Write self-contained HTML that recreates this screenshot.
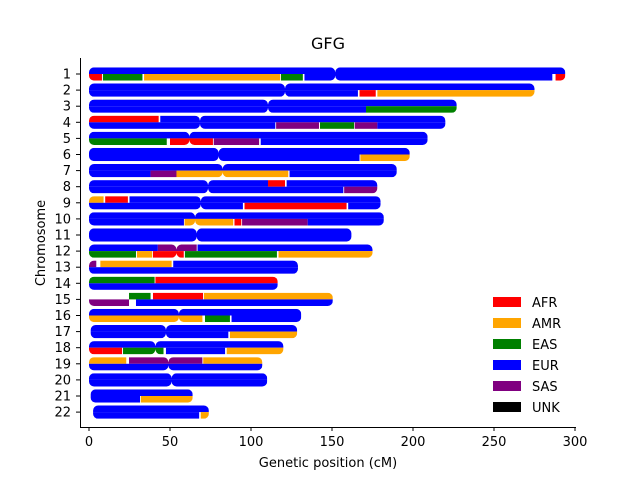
<!DOCTYPE html>
<html><head><meta charset="utf-8"><style>
body{margin:0;background:#fff}
svg text{font-family:"DejaVu Sans","Liberation Sans",sans-serif;fill:#000}
</style></head><body>
<svg id="chart" width="640" height="480" viewBox="0 0 640 480" xmlns="http://www.w3.org/2000/svg">
<rect width="640" height="480" fill="#fff"/>
<text x="328" y="49" font-size="16" text-anchor="middle">GFG</text>
<g id="plot"></g>
<line x1="80.5" y1="58" x2="80.5" y2="427" stroke="#000"/>
<line x1="80" y1="427.5" x2="576" y2="427.5" stroke="#000"/>
<g id="xticks"></g>
<g id="yticks"></g>
<text x="328" y="467" font-size="13" text-anchor="middle">Genetic position (cM)</text>
<text transform="translate(45,243) rotate(-90)" font-size="13" text-anchor="middle">Chromosome</text>
<g id="legend"></g>
</svg>
<script>
const populations = ["AFR","AMR","EAS","EUR","SAS","UNK"];
const popColors = {AFR:"#ff0000",AMR:"#ffa500",EAS:"#008000",EUR:"#0000ff",SAS:"#800080",UNK:"#000000"};
const chromosomes = ["1","2","3","4","5","6","7","8","9","10","11","12","13","14","15","16","17","18","19","20","21","22"];
const chromStart = [0,0,0,0,0,0,0,0,0,0,0,0,0,0,0,0,1,0,0,0,1,2.5];
const chromEnd = [294,275,227,220,209,198,190,178,180,182,162,175,129,116.5,150.5,131,128.5,120,107,110,64,74];
const centromeres = [152,121,110.5,68.5,62,80,82.5,73.5,69,65.5,66.5,54,null,null,null,55.5,47.5,41,49,51,null,null];
const xTicks = [0,50,100,150,200,250,300];
// segments: [chromIndex, haplotype(0 top,1 bottom), start, end, population]
const segments = [
[0,0,0,294,"EUR"],
[0,1,0,8,"AFR"],[0,1,8.6,33,"EAS"],[0,1,34,118,"AMR"],[0,1,118.5,132,"EAS"],[0,1,133,286,"EUR"],[0,1,288,294,"AFR"],
[1,0,0,275,"EUR"],[1,1,0,166,"EUR"],[1,1,167,177,"AFR"],[1,1,178,275,"AMR"],
[2,0,0,227,"EUR"],[2,1,0,171,"EUR"],[2,1,171,227,"EAS"],
[3,0,0,43,"AFR"],[3,0,44,220,"EUR"],[3,1,0,115,"EUR"],[3,1,115.5,142,"SAS"],[3,1,142.6,163.6,"EAS"],[3,1,164,178,"SAS"],[3,1,178,220,"EUR"],
[4,0,0,209,"EUR"],[4,1,0,48,"EAS"],[4,1,50,76.5,"AFR"],[4,1,77,105,"SAS"],[4,1,106,209,"EUR"],
[5,0,0,198,"EUR"],[5,1,0,167,"EUR"],[5,1,167.5,198,"AMR"],
[6,0,0,190,"EUR"],[6,1,0,38,"EUR"],[6,1,38,54,"SAS"],[6,1,54,123,"AMR"],[6,1,123.8,190,"EUR"],
[7,0,0,110.5,"EUR"],[7,0,110.5,121,"AFR"],[7,0,122,178,"EUR"],[7,1,0,157,"EUR"],[7,1,157.5,178,"SAS"],
[8,0,0,9,"AMR"],[8,0,10,24,"AFR"],[8,0,25,180,"EUR"],[8,1,0,95,"EUR"],[8,1,96,159,"AFR"],[8,1,160,180,"EUR"],
[9,0,0,182,"EUR"],[9,1,0,58.6,"EUR"],[9,1,59,89,"AMR"],[9,1,89.8,94,"AFR"],[9,1,94.5,135,"SAS"],[9,1,135,182,"EUR"],
[10,0,0,162,"EUR"],[10,1,0,162,"EUR"],
[11,0,0,42.5,"EUR"],[11,0,42.5,66.5,"SAS"],[11,0,67,175,"EUR"],[11,1,0,29,"EAS"],[11,1,29.6,39,"AMR"],[11,1,39.5,58.5,"AFR"],[11,1,59.2,116,"EAS"],[11,1,117,175,"AMR"],
[12,0,0,4.5,"SAS"],[12,0,7,51,"AMR"],[12,0,52,129,"EUR"],[12,1,0,129,"EUR"],
[13,0,0,40.5,"EAS"],[13,0,41,116.5,"AFR"],[13,1,0,116.5,"EUR"],
[14,0,24.7,38,"EAS"],[14,0,39.5,70.4,"AFR"],[14,0,71,150.5,"AMR"],[14,1,0,24.7,"SAS"],[14,1,29,150.5,"EUR"],
[15,0,0,131,"EUR"],[15,1,0,70,"AMR"],[15,1,71.6,87,"EAS"],[15,1,88,131,"EUR"],
[16,0,1,128.5,"EUR"],[16,1,1,86,"EUR"],[16,1,87,128.5,"AMR"],
[17,0,0,120,"EUR"],[17,1,0,20.4,"AFR"],[17,1,21,46,"EAS"],[17,1,47.5,84,"EUR"],[17,1,85,120,"AMR"],
[18,0,0,23,"AMR"],[18,0,24.7,70,"SAS"],[18,0,70.5,107,"AMR"],[18,1,0,107,"EUR"],
[19,0,0,110,"EUR"],[19,1,0,110,"EUR"],
[20,0,1,64,"EUR"],[20,1,1,31.5,"EUR"],[20,1,32,64,"AMR"],
[21,0,2.5,74,"EUR"],[21,1,2.5,68,"EUR"],[21,1,69,74,"AMR"]
];
const NS="http://www.w3.org/2000/svg";
const x0=89, xs=1.62;
function xScale(v){return x0+v*xs;}
function yScale(i){return 74+i*16.1;}
const half=6.6, r=5;
const svg=document.getElementById('chart');
const plot=document.getElementById('plot');
const defs=document.createElementNS(NS,'defs');svg.insertBefore(defs,svg.firstChild);
function mk(tag,attrs,parent){const e=document.createElementNS(NS,tag);for(const k in attrs)e.setAttribute(k,attrs[k]);parent.appendChild(e);return e;}
chromosomes.forEach((c,i)=>{
  const cp=mk('clipPath',{id:'clip'+i},defs);
  const yc=yScale(i), a=xScale(chromStart[i]), b=xScale(chromEnd[i]);
  const parts = centromeres[i]==null ? [[a,b]] : [[a,xScale(centromeres[i])],[xScale(centromeres[i]),b]];
  parts.forEach(p=>mk('rect',{x:p[0],y:yc-half,width:p[1]-p[0],height:2*half,rx:r,ry:r},cp));
  const g=mk('g',{'clip-path':'url(#clip'+i+')'},plot);
  
  
});
const groups=plot.children;
segments.forEach(s=>{
  const [ci,h,st,en,pop]=s;
  const yc=yScale(ci);
  const rect=mk('rect',{x:xScale(st),y:h===0?yc-half:yc,width:Math.max(0,xScale(en)-xScale(st)),height:half,fill:popColors[pop]},groups[ci]);
  
  
});
const xt=document.getElementById('xticks');
xTicks.forEach(v=>{
  const X=xScale(v);
  mk('line',{x1:X,y1:427,x2:X,y2:431,stroke:'#000'},xt);
  const t=mk('text',{x:X,y:446,'font-size':'13','text-anchor':'middle'},xt);t.textContent=v;
  
  
});
const yt=document.getElementById('yticks');
chromosomes.forEach((c,i)=>{
  const Y=yScale(i);
  mk('line',{x1:76,y1:Y,x2:80,y2:Y,stroke:'#000'},yt);
  const t=mk('text',{x:71,y:Y+4.5,'font-size':'13','text-anchor':'end'},yt);t.textContent=c;
  
  
});
const lg=document.getElementById('legend');
populations.forEach((p,i)=>{
  const Y=302+i*21;
  const g=mk('g',{},lg);
  
  
  mk('rect',{x:493,y:Y-5,width:28,height:10,fill:popColors[p]},g);
  const t=mk('text',{x:532,y:Y+5,'font-size':'13'},g);t.textContent=p;
});
</script>
</body></html>
